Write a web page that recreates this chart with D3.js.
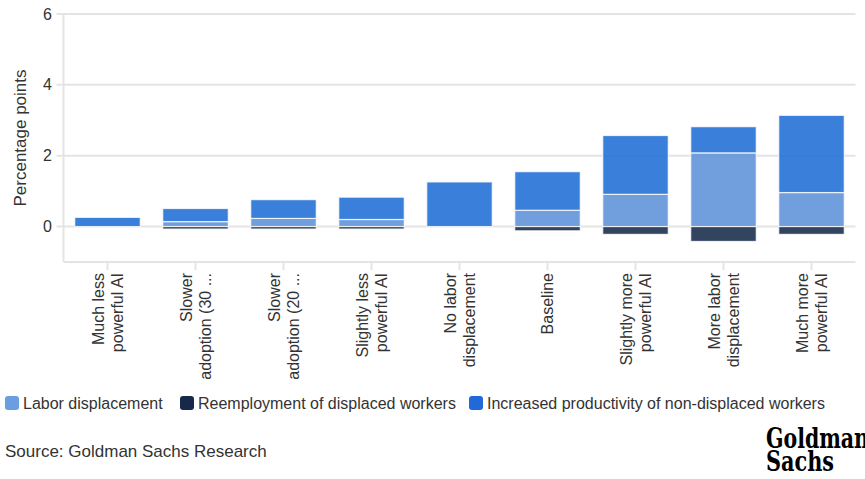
<!DOCTYPE html>
<html>
<head>
<meta charset="utf-8">
<script src="https://cdn.jsdelivr.net/npm/d3@7"></script>
<style>
  html, body { margin: 0; padding: 0; background: #fff; }
  svg { display: block; font-family: "Liberation Sans", Arial, sans-serif; }
</style>
</head>
<body>
<svg id="chart" width="865" height="479"></svg>
<script>
// Scenario categories (each label split into its display lines)
const categories = [
  ["Much less", "powerful AI"],
  ["Slower", "adoption (30 ..."],
  ["Slower", "adoption (20 ..."],
  ["Slightly less", "powerful AI"],
  ["No labor", "displacement"],
  ["Baseline"],
  ["Slightly more", "powerful AI"],
  ["More labor", "displacement"],
  ["Much more", "powerful AI"]
];

// Contributions in percentage points
const laborDisplacement = [0.00, 0.14, 0.23, 0.20, 0.00, 0.46, 0.91, 2.08, 0.96];
const reemployment      = [0.00, -0.07, -0.07, -0.07, 0.00, -0.12, -0.22, -0.42, -0.22];
const productivity      = [0.26, 0.37, 0.53, 0.63, 1.26, 1.09, 1.66, 0.74, 2.18];

const seriesNames = [
  "Labor displacement",
  "Reemployment of displaced workers",
  "Increased productivity of non-displaced workers"
];
const seriesColors = ["#6295da", "#1c304e", "#2571d5"];
const legendColors = ["#6a9ee0", "#17294a", "#2368d8"];

const yTicks = [0, 2, 4, 6];

const svg = d3.select("#chart");
const margin = { left: 63.5, right: 9.5, top: 14, bottom: 217 };
const W = 865, H = 479;

const rows = categories.map((c, i) => ({
  key: i,
  labor: laborDisplacement[i],
  reemp: reemployment[i],
  prod: productivity[i]
}));
const keys = ["labor", "reemp", "prod"];

const stack = d3.stack().keys(keys).offset(d3.stackOffsetDiverging);
const stacked = stack(rows);

const x = d3.scaleBand()
  .domain(d3.range(categories.length))
  .range([margin.left, W - margin.right])
  .paddingInner(0.255)
  .paddingOuter(0.1275);

const y = d3.scaleLinear()
  .domain([-1, 6])
  .range([H - margin.bottom, margin.top]);

const gridColor = "#e4e4e4";

// Horizontal gridlines
svg.append("g")
  .selectAll("line")
  .data(yTicks)
  .join("line")
  .attr("x1", margin.left - 7)
  .attr("x2", W - margin.right)
  .attr("y1", d => y(d))
  .attr("y2", d => y(d))
  .attr("stroke", gridColor)
  .attr("stroke-width", 2);

// Left axis line
svg.append("line")
  .attr("x1", margin.left).attr("x2", margin.left)
  .attr("y1", y(6)).attr("y2", y(-1))
  .attr("stroke", gridColor).attr("stroke-width", 2);

// Bottom axis line with ticks at category centres
svg.append("line")
  .attr("x1", margin.left).attr("x2", W - margin.right)
  .attr("y1", y(-1)).attr("y2", y(-1))
  .attr("stroke", gridColor).attr("stroke-width", 2);

svg.append("g")
  .selectAll("line")
  .data(d3.range(categories.length))
  .join("line")
  .attr("x1", d => x(d) + x.bandwidth() / 2)
  .attr("x2", d => x(d) + x.bandwidth() / 2)
  .attr("y1", y(-1))
  .attr("y2", y(-1) + 8)
  .attr("stroke", gridColor)
  .attr("stroke-width", 2);

// Y tick labels
svg.append("g")
  .selectAll("text")
  .data(yTicks)
  .join("text")
  .attr("x", 52)
  .attr("y", d => y(d))
  .attr("dy", "0.35em")
  .attr("text-anchor", "end")
  .attr("font-size", 16)
  .attr("fill", "#333")
  .text(d => d);

// Y axis title
svg.append("text")
  .attr("transform", `translate(26,${(y(6) + y(-1)) / 2}) rotate(-90)`)
  .attr("text-anchor", "middle")
  .attr("font-size", 17)
  .attr("fill", "#333")
  .text("Percentage points");

// Stacked bars
svg.append("g")
  .selectAll("g")
  .data(stacked)
  .join("g")
  .attr("fill", (d, i) => seriesColors[i])
  .selectAll("rect")
  .data(d => d.filter(p => p[1] !== p[0]))
  .join("rect")
  .attr("x", d => x(d.data.key))
  .attr("width", x.bandwidth())
  .attr("y", d => y(Math.max(d[0], d[1])))
  .attr("height", d => Math.abs(y(d[0]) - y(d[1])))
  .attr("fill-opacity", 0.9)
  .attr("stroke", "#ffffff")
  .attr("stroke-opacity", 0.8)
  .attr("stroke-width", 1.2);

// Rotated category labels
const labelTop = 273;
const lineGap = 19;
const labels = svg.append("g")
  .selectAll("text")
  .data(categories)
  .join("text")
  .attr("transform", (d, i) => `translate(${x(i) + x.bandwidth() / 2},${labelTop}) rotate(-90)`)
  .attr("text-anchor", "end")
  .attr("font-size", 16)
  .attr("fill", "#333");

labels.each(function(lines) {
  const t = d3.select(this);
  lines.forEach((line, j) => {
    t.append("tspan")
      .attr("x", 0)
      .attr("y", 5.5 + (j - (lines.length - 1) / 2) * lineGap)
      .text(line);
  });
});

// Legend
const legendX = [5, 180, 469];
const legendY = 403;
const legend = svg.append("g")
  .selectAll("g")
  .data(seriesNames)
  .join("g")
  .attr("transform", (d, i) => `translate(${legendX[i]},${legendY})`);

legend.append("rect")
  .attr("x", 0).attr("y", -7)
  .attr("width", 14).attr("height", 14)
  .attr("rx", 3)
  .attr("fill", (d, i) => legendColors[i]);

legend.append("text")
  .attr("x", 18)
  .attr("y", 0)
  .attr("dy", "0.35em")
  .attr("font-size", 16)
  .attr("fill", "#333")
  .text(d => d);

// Source note
svg.append("text")
  .attr("x", 5)
  .attr("y", 457)
  .attr("font-size", 17)
  .attr("fill", "#333")
  .text("Source: Goldman Sachs Research");

// Wordmark
const logo = svg.append("g")
  .attr("font-family", "'DejaVu Serif Condensed', 'DejaVu Serif', serif")
  .attr("font-weight", "bold")
  .attr("font-size", 27)
  .attr("fill", "#000");
logo.append("text")
  .attr("x", 766).attr("y", 448)
  .attr("textLength", 103).attr("lengthAdjust", "spacingAndGlyphs")
  .text("Goldman");
logo.append("text")
  .attr("x", 766).attr("y", 471)
  .attr("textLength", 68).attr("lengthAdjust", "spacingAndGlyphs")
  .text("Sachs");
</script>
</body>
</html>
